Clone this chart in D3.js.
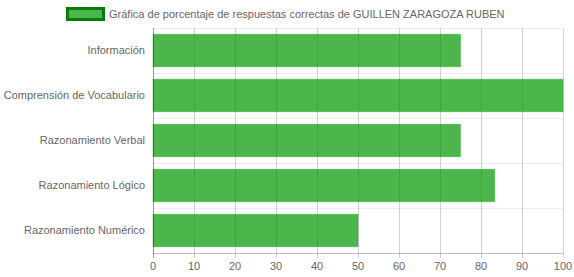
<!DOCTYPE html>
<html>
<head>
<meta charset="utf-8">
<script src="https://cdn.jsdelivr.net/npm/d3@7"></script>
<style>
  body { margin: 0; background: #fff; }
  svg { display: block; font-family: "Liberation Sans", Arial, sans-serif; }
</style>
</head>
<body>
<div id="container"></div>
<script>
const categories = [
  "Información",
  "Comprensión de Vocabulario",
  "Razonamiento Verbal",
  "Razonamiento Lógico",
  "Razonamiento Numérico"
]
const values = [75, 100, 75, 83.33, 50]
const xTicks = [0, 10, 20, 30, 40, 50, 60, 70, 80, 90, 100]
const seriesLabel = "Gráfica de porcentaje de respuestas correctas de GUILLEN ZARAGOZA RUBEN"

const width = 574
const height = 277
const margins = { top: 28, right: 11, bottom: 24, left: 153 }

const xScale = d3.scaleLinear([0, 100], [margins.left, width - margins.right])
const yScale = d3.scaleBand(categories, [margins.top, height - margins.bottom])

const svg = d3.select('#container')
  .append('svg')
  .attr('width', width)
  .attr('height', height)
  .attr('viewBox', [0, 0, width, height])

// horizontal grid (category boundaries)
svg.append('g')
  .selectAll('line')
  .data(categories)
  .join('line')
  .attr('x1', margins.left)
  .attr('x2', width - margins.right)
  .attr('y1', d => yScale(d) + 0.5)
  .attr('y2', d => yScale(d) + 0.5)
  .attr('stroke', 'rgba(0,0,0,0.07)')

// vertical grid
svg.append('g')
  .selectAll('line')
  .data(xTicks)
  .join('line')
  .attr('x1', d => Math.round(xScale(d)) + 0.5)
  .attr('x2', d => Math.round(xScale(d)) + 0.5)
  .attr('y1', margins.top)
  .attr('y2', height - margins.bottom + 5)
  .attr('stroke', 'rgba(0,0,0,0.18)')

// bars
const barH = yScale.bandwidth() * 0.72
svg.append('g')
  .selectAll('rect')
  .data(values)
  .join('rect')
  .attr('x', xScale(0))
  .attr('y', (d, i) => yScale(categories[i]) + (yScale.bandwidth() - barH) / 2)
  .attr('width', d => xScale(d) - xScale(0))
  .attr('height', barH)
  .attr('fill', 'rgba(0,150,0,0.7)')
  .attr('stroke', 'rgba(0,160,0,0.35)')
  .attr('stroke-width', 1)

// bottom axis line
svg.append('line')
  .attr('x1', margins.left)
  .attr('x2', width - margins.right)
  .attr('y1', height - margins.bottom + 0.5)
  .attr('y2', height - margins.bottom + 0.5)
  .attr('stroke', 'rgba(0,0,0,0.25)')

// left axis line
svg.append('line')
  .attr('x1', margins.left + 0.5)
  .attr('x2', margins.left + 0.5)
  .attr('y1', margins.top)
  .attr('y2', height - margins.bottom + 5)
  .attr('stroke', 'rgba(0,0,0,0.25)')

// x tick labels
svg.append('g')
  .selectAll('text')
  .data(xTicks)
  .join('text')
  .attr('x', d => xScale(d))
  .attr('y', height - margins.bottom + 17)
  .attr('text-anchor', 'middle')
  .attr('font-size', 11)
  .attr('fill', '#666')
  .text(d => d)

// y tick labels
svg.append('g')
  .selectAll('text')
  .data(categories)
  .join('text')
  .attr('x', margins.left - 8)
  .attr('y', d => yScale(d) + yScale.bandwidth() / 2)
  .attr('dy', '0.35em')
  .attr('text-anchor', 'end')
  .attr('font-size', 11)
  .attr('fill', '#666')
  .text(d => d)

// legend
const legend = svg.append('g')
legend.append('rect')
  .attr('x', 67.5)
  .attr('y', 8.5)
  .attr('width', 36)
  .attr('height', 11)
  .attr('fill', 'rgba(0,150,0,0.7)')
  .attr('stroke', '#0a7a0a')
  .attr('stroke-width', 3)
legend.append('text')
  .attr('x', 109)
  .attr('y', 18)
  .attr('font-size', 11)
  .attr('fill', '#666')
  .text(seriesLabel)
</script>
</body>
</html>
